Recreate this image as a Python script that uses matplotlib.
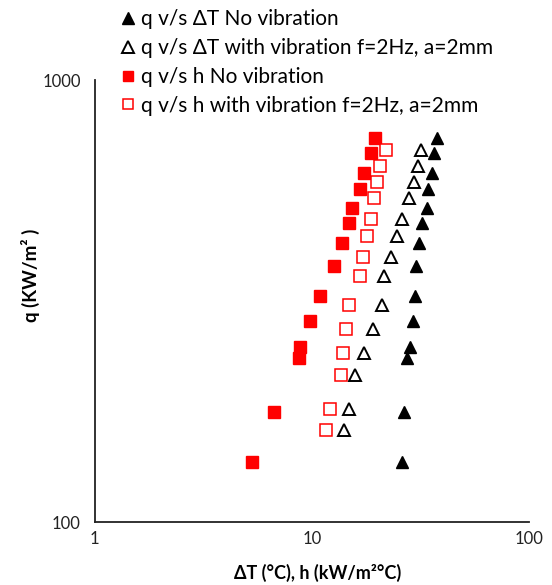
import matplotlib
matplotlib.use("Agg")
import matplotlib.pyplot as plt

plt.rcParams['font.family'] = ['Lato', 'DejaVu Sans']

# No vibration
q_novib = [738, 684, 616, 568, 513, 475, 427, 380, 325, 285, 249, 235, 178, 137]
dT_novib = [37.7, 36.4, 35.6, 34.3, 33.7, 32.2, 31.2, 30.1, 29.9, 29.1, 28.2, 27.3, 26.6, 26.0]
h_novib = [19.5, 18.7, 17.3, 16.6, 15.3, 14.8, 13.7, 12.6, 10.85, 9.76, 8.81, 8.69, 6.66, 5.28]

# With vibration f=2Hz, a=2mm
q_vib = [696, 638, 588, 541, 485, 443, 398, 361, 310, 274, 242, 215, 180, 162]
dT_vib = [31.8, 30.8, 29.6, 28.0, 25.9, 24.5, 23.1, 21.5, 20.9, 19.1, 17.4, 15.7, 14.8, 14.0]
h_vib = [21.9, 20.6, 19.9, 19.3, 18.7, 18.0, 17.2, 16.6, 14.8, 14.3, 13.9, 13.6, 12.1, 11.6]

labels = ["q v/s \u0394T No vibration",
          "q v/s \u0394T with vibration f=2Hz, a=2mm",
          "q v/s h No vibration",
          "q v/s h with vibration f=2Hz, a=2mm"]

W, H = 552, 585
fig = plt.figure(figsize=(W/100, H/100), dpi=100)
x0, x1, y0, y1 = 94.7, 529.3, 80, 522.3
ax = fig.add_axes([x0/W, 1-y1/H, (x1-x0)/W, (y1-y0)/H])

ms = 9
ax.plot(dT_novib, q_novib, linestyle='none', marker='^', ms=ms, mfc='black', mec='black', label=labels[0])
ax.plot(dT_vib, q_vib, linestyle='none', marker='^', ms=ms, mfc='white', mec='black', mew=1.4, label=labels[1])
ax.plot(h_novib, q_novib, linestyle='none', marker='s', ms=ms-0.5, mfc='#ff0000', mec='#ff0000', label=labels[2])
ax.plot(h_vib, q_vib, linestyle='none', marker='s', ms=ms-0.5, mfc='white', mec='#ff0000', mew=1.1, label=labels[3])

ax.set_xscale('log')
ax.set_yscale('log')
ax.set_xlim(1, 100)
ax.set_ylim(100, 1000)
ax.set_xticks([1, 10, 100])
ax.set_xticklabels(['1', '10', '100'])
ax.set_yticks([100, 1000])
ax.set_yticklabels(['100', '1000'])
ax.minorticks_off()
ax.tick_params(length=0, labelsize=12, colors='#222222')
ax.tick_params(axis='y', pad=10)
ax.tick_params(axis='x', pad=6)
for s in ['top', 'right']:
    ax.spines[s].set_visible(False)
for s in ['left', 'bottom']:
    ax.spines[s].set_linewidth(1.3)
    ax.spines[s].set_color('#222222')

ax.set_xlabel("\u0394T (\u00b0C), h (kW/m\u00b2\u00b0C)", fontsize=13, fontweight='bold', va='center')
ax.xaxis.set_label_coords((318-x0)/(x1-x0), -(573-y1)/(y1-y0))
ax.set_ylabel("q (KW/m\u00b2 )", fontsize=13.5, fontweight='bold', va='center')
ax.yaxis.set_label_coords(-(x0-30)/(x1-x0), (y1-275)/(y1-y0))

fig.legend(loc='upper left', bbox_to_anchor=(112/W, 1-1/H), frameon=False,
           fontsize=15, handlelength=0.7, handletextpad=0.3, labelspacing=0.42,
           markerscale=0.9, borderaxespad=0)

fig.savefig('out.png', dpi=100)
